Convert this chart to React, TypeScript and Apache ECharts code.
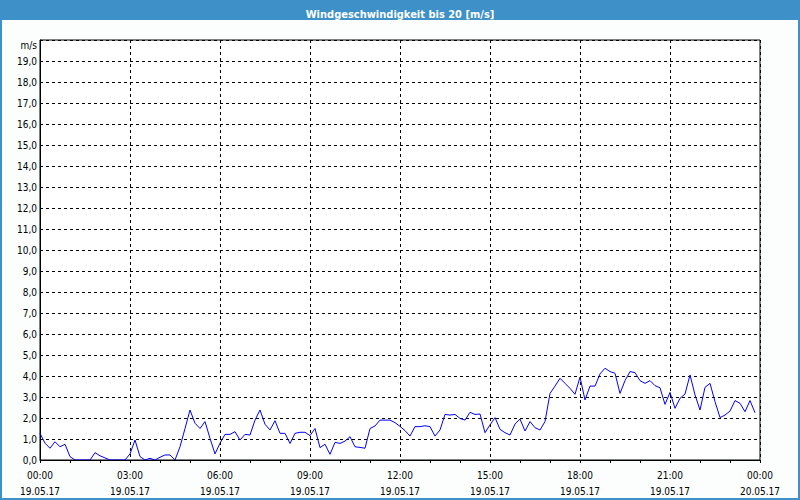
import React, { useEffect, useRef } from "react";
import * as echarts from "echarts";

const TITLE = "Windgeschwindigkeit bis 20 [m/s]";
const UNIT = "m/s";
const STEP_MIN = 10;
const DATE_START = "19.05.17";
const DATE_END = "20.05.17";

// wind speed in m/s, one value per 10 minutes from 00:00
const speeds = [
  1.27, 0.8, 0.56, 0.87, 0.63, 0.75, 0.16, 0, 0, 0, 0, 0.35,
  0.2, 0.1, 0, 0, 0, 0, 0.29, 0.95, 0.16, 0, 0.08, 0,
  0.13, 0.24, 0.24, 0, 0.63, 1.5, 2.38, 1.75, 1.5, 1.83, 1.03, 0.29,
  0.8, 1.22, 1.22, 1.35, 0.95, 1.22, 1.19, 1.9, 2.38, 1.7, 1.43, 1.87,
  1.27, 1.27, 0.79, 1.27, 1.32, 1.32, 1.16, 1.5, 0.59, 0.75, 0.27, 0.84,
  0.79, 0.9, 1.11, 0.63, 0.6, 0.56, 1.5, 1.62, 1.9, 1.9, 1.9, 1.78,
  1.6, 1.4, 1.14, 1.59, 1.59, 1.63, 1.59, 1.14, 1.43, 2.17, 2.14, 2.17,
  1.98, 1.9, 2.27, 2.17, 2.19, 1.3, 1.67, 2.02, 1.46, 1.3, 1.19, 1.71,
  1.95, 1.38, 1.83, 1.54, 1.43, 1.83, 3.17, 3.52, 3.89, 3.65, 3.41, 3.13,
  3.95, 2.86, 3.52, 3.52, 4.1, 4.37, 4.21, 4.13, 3.17, 3.78, 4.21, 4.16,
  3.78, 3.65, 3.78, 3.54, 3.44, 2.65, 3.22, 2.46, 2.94, 3.14, 4.05, 3.1,
  2.38, 3.46, 3.65, 2.78, 2.02, 2.14, 2.33, 2.83, 2.7, 2.3, 2.83, 2.25,
];

const FONT = 'Tahoma, "DejaVu Sans Condensed", "Liberation Sans", sans-serif';
const BLUE = "#3d90c8";

function pad(n: number) {
  return n < 10 ? "0" + n : "" + n;
}

export default function App() {
  const ref = useRef<HTMLDivElement>(null);
  useEffect(() => {
    if (!ref.current) return;
    const chart = echarts.init(ref.current, undefined, { renderer: "svg" });
    const data = speeds.map((v, i) => [i * STEP_MIN, v]);
    chart.setOption({
      animation: false,
      backgroundColor: "#fcfefd",
      title: {
        text: TITLE,
        left: "center",
        top: 4,
        textStyle: { color: "#fff", fontSize: 11, fontWeight: "bold", fontFamily: FONT },
      },
      graphic: [
        { type: "rect", z: -1, shape: { x: 0, y: 0, width: 800, height: 20 }, style: { fill: BLUE } },
        { type: "rect", z: 100, shape: { x: 1, y: 1, width: 798, height: 498 }, style: { fill: "none", stroke: BLUE, lineWidth: 2 } },
        { type: "text", x: 37, y: 45, style: { text: UNIT, fill: "#000", font: "10px " + FONT, align: "right", verticalAlign: "middle" } },
      ],
      grid: {
        left: 40, right: 40, top: 40, bottom: 40,
        show: true, backgroundColor: "#fff", borderColor: "#000", borderWidth: 1,
      },
      xAxis: {
        type: "value",
        min: 0,
        max: 1440,
        interval: 180,
        z: 5,
        axisLine: { show: true, lineStyle: { color: "#000", width: 1 } },
        axisTick: { show: true, length: 3, lineStyle: { color: "#000" } },
        minorTick: { show: true, splitNumber: 3, length: 3, lineStyle: { color: "#000" } },
        splitLine: { show: true, lineStyle: { color: "#000", type: [3, 3] } },
        axisLabel: {
          color: "#000",
          fontSize: 10,
          fontFamily: FONT,
          lineHeight: 16,
          margin: 7,
          showMinLabel: true,
          showMaxLabel: true,
          formatter: (v: number) => {
            const h = Math.floor(v / 60) % 24;
            const m = v % 60;
            const d = v >= 1440 ? DATE_END : DATE_START;
            return pad(h) + ":" + pad(m) + "\n" + d;
          },
        },
      },
      yAxis: {
        type: "value",
        min: 0,
        max: 20,
        interval: 1,
        axisLine: { show: true, lineStyle: { color: "#000" } },
        axisTick: { show: false },
        splitLine: { show: true, lineStyle: { color: "#000", type: [3, 3] } },
        axisLabel: {
          color: "#000",
          fontSize: 10,
          fontFamily: FONT,
          margin: 3,
          formatter: (v: number) => (v >= 20 ? "" : v.toFixed(1).replace(".", ",")),
        },
      },
      series: [
        {
          type: "line",
          data,
          showSymbol: false,
          symbol: "none",
          lineStyle: { color: "#0000ff", width: 1 },
          itemStyle: { color: "#0000ff" },
        },
      ],
    });
    return () => chart.dispose();
  }, []);
  return (
    <div
      ref={ref}
      style={{ position: "fixed", left: 0, top: 0, width: 800, height: 500 }}
    />
  );
}
